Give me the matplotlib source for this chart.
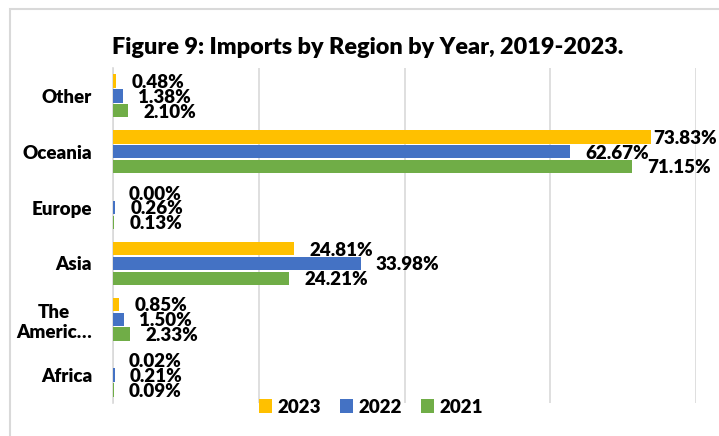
import numpy as np
import matplotlib
matplotlib.use("Agg")
import matplotlib.pyplot as plt
from matplotlib.patches import Rectangle

plt.rcParams['font.family'] = ['Lato', 'DejaVu Sans']
plt.rcParams['font.weight'] = 'heavy'

regions = ["Africa", "The\nAmeric\u2026", "Asia", "Europe", "Oceania", "Other"]
years = ["2023", "2022", "2021"]
v2023 = [0.02, 0.85, 24.81, 0.00, 73.83, 0.48]
v2022 = [0.21, 1.50, 33.98, 0.26, 62.67, 1.38]
v2021 = [0.09, 2.33, 24.21, 0.13, 71.15, 2.10]
colors = ["#FFC000", "#4472C4", "#70AD47"]
W = 'heavy'

fig = plt.figure(figsize=(7.19, 4.36), dpi=100)
ax = fig.add_axes([113/719, 1 - 403/436, (696 - 113)/719, (403 - 68)/436])

y = np.arange(len(regions))
step = 0.265
bh = 0.24
series = [v2023, v2022, v2021]
bars = []
for i, (vals, c, yr) in enumerate(zip(series, colors, years)):
    b = ax.barh(y + step * (1 - i), vals, height=bh, color=c, label=yr, zorder=3)
    bars.append(b)

ax.set_xlim(0, 80)
ax.set_ylim(-0.5, len(regions) - 0.5)
ax.set_xticks([0, 20, 40, 60, 80])
ax.tick_params(axis='x', labelbottom=False, length=0)
ax.tick_params(axis='y', length=0, pad=15)
ax.set_yticks(y)
ax.set_yticklabels(regions, fontsize=13.5, fontweight=W, multialignment='center')
ax.grid(axis='x', color='#D9D9D9', lw=1.2, zorder=0)
for s in ['top', 'right', 'bottom']:
    ax.spines[s].set_visible(False)
ax.spines['left'].set_color('#D9D9D9')
ax.spines['left'].set_linewidth(1.2)

fig.canvas.draw()
renderer = fig.canvas.get_renderer()
for b, vals in zip(bars, series):
    for rect, v in zip(b, vals):
        yc = rect.get_y() + rect.get_height() / 2
        t = ax.annotate(f"{v:.2f}%", (v, yc), xytext=(11, -1), textcoords='offset points',
                        va='center', ha='left', fontsize=13.5, fontweight=W, color='#000000')
        bb = t.get_window_extent(renderer)
        if bb.x1 > 717:
            t.set_position((11 - (bb.x1 - 717) * 72 / 100, -1))

fig.text(368/719, 1 - 47/436, "Figure 9: Imports by Region by Year, 2019-2023.",
         ha='center', va='center', fontsize=16.8, fontweight=W)

leg = fig.legend(loc='center', bbox_to_anchor=(371/719, 1 - 407/436), ncol=3, frameon=False,
                 prop={'size': 13.5, 'weight': W}, handlelength=0.7, handleheight=0.7,
                 handletextpad=0.3, columnspacing=1.0, borderpad=0)

fig.patches.append(Rectangle((10/719, -0.1), 1.2, 1.1 - 9/436, transform=fig.transFigure,
                             fill=False, ec='#D9D9D9', lw=1.5))

fig.savefig("out.png", dpi=100, facecolor='white')
